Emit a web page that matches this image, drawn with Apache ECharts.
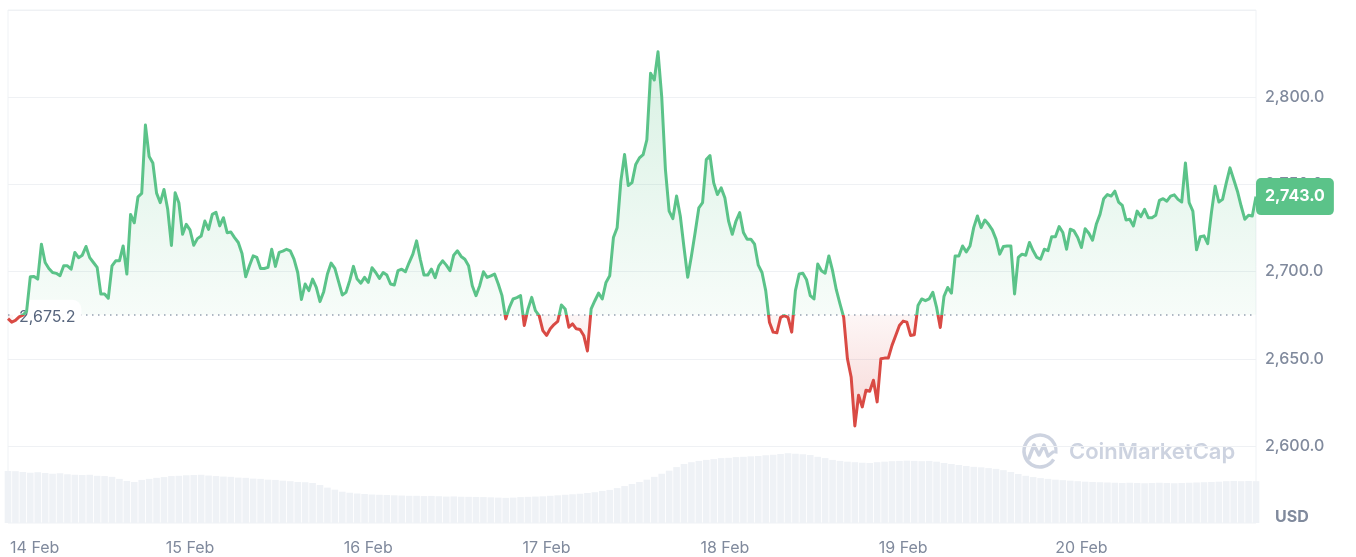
<!DOCTYPE html>
<html>
<head>
<meta charset="utf-8">
<script src="https://cdn.jsdelivr.net/npm/echarts@6/dist/echarts.min.js"></script>
<style>
html,body{margin:0;padding:0;background:#ffffff;}
#chart{width:1356px;height:557px;}
</style>
</head>
<body>
<div id="chart"></div>
<script>
// ---- data ----
const dayLabels = ['14 Feb','15 Feb','16 Feb','17 Feb','18 Feb','19 Feb','20 Feb'];
const dayTickHours = [0,24,48,72,96,120,144];          // hours after 14 Feb 00:00
const priceStartHour = -0.5;
const priceStepHours = 0.5;
const prices = [
 2673,2671,2672,2674,2675,2677,2697,2697.2,2695.7,2715.7,
 2705.2,2701.8,2699.5,2699,2697.6,2703.3,2703.3,2701.4,2711,2708,
 2709.4,2714.4,2708,2705.2,2702.4,2687.2,2687.2,2684.7,2703.3,2706.2,
 2706.2,2714.7,2698.6,2732.8,2728,2742.9,2744.8,2784,2766,2762.3,
 2745,2739.5,2747.1,2735.7,2715,2745.2,2739.5,2721.4,2727.1,2723.9,
 2715.1,2718.9,2720.4,2729,2724.2,2732.8,2734,2726.2,2730.9,2722.3,
 2722.7,2719.5,2716.7,2710.4,2697,2703.3,2709,2708.1,2701.8,2701.8,
 2702.4,2712.8,2703,2711,2711.7,2712.8,2711.9,2707.1,2699.5,2684,
 2692.9,2689.1,2695.7,2691,2682.8,2688.5,2698.6,2704.9,2701.8,2694.2,
 2686.6,2688.1,2694.8,2703,2695.7,2693.4,2696.7,2693.8,2702.2,2699.5,
 2696.1,2699.5,2698,2692.9,2692.3,2700.5,2701.4,2699.9,2705.2,2710,
 2717.6,2707.1,2698,2698,2701.4,2696.5,2703.3,2706.2,2703.7,2700.5,
 2709.4,2711.9,2708.7,2707.1,2703.3,2691.9,2686.2,2691.9,2699.9,2696.7,
 2697.6,2698.6,2692.9,2686.2,2672.9,2679.5,2684.3,2685.1,2686.2,2669.1,
 2678.6,2685.2,2677.6,2674.8,2666.2,2663.4,2667.2,2669.6,2671.4,2680.9,
 2678.6,2668.1,2670,2667.2,2666.8,2663.4,2654.5,2678.6,2683.3,2687.7,
 2684.3,2693.8,2697.6,2719.5,2725.2,2751.9,2767.1,2749.4,2751,2761.4,
 2765.2,2767.1,2775.6,2813.7,2809.9,2826,2800.4,2758.5,2734.7,2730.4,
 2743.3,2731.9,2713.8,2696.7,2709,2722.4,2736.6,2739.5,2764.2,2766.5,
 2750.9,2744.2,2748,2742.3,2729,2721.4,2729,2733.8,2722.4,2718.6,
 2718.6,2715.7,2703.7,2699.5,2689.1,2671,2665.3,2664.9,2673.8,2674.8,
 2673.8,2665.3,2689.1,2698.6,2699,2695.3,2686.2,2684.3,2704.3,2700.5,
 2699.1,2709,2700.5,2689.6,2681.5,2673.8,2650,2639.6,2611.5,2629.1,
 2622.4,2632,2631.4,2637.7,2625.3,2650,2650.4,2650.4,2657.7,2663.4,
 2669.1,2671.6,2671,2663.4,2663.8,2680.5,2684.3,2683.3,2684.3,2688.1,
 2679.5,2668,2685.8,2690.9,2687.7,2709,2709,2714.7,2711.3,2714.7,
 2725.2,2731.9,2725.2,2729.6,2727.1,2723.9,2718.6,2710,2714.4,2714.7,
 2714.7,2687.2,2708.1,2710,2709.4,2716.7,2711.9,2708.1,2707.1,2712.8,
 2712,2720,2720,2725.8,2722.4,2712.8,2724.3,2723.3,2719.5,2713.8,
 2724.6,2722,2718,2727.1,2732.8,2741.8,2744.2,2743.3,2746.1,2739.9,
 2738,2729.6,2730,2726.2,2734.7,2731.5,2735.7,2730.9,2730.9,2732.3,
 2740.8,2741.8,2740.4,2743.3,2744,2741.4,2739.9,2762.3,2739.5,2734.7,
 2712.5,2720,2720.5,2716,2733.8,2749,2739.9,2741.4,2750.9,2759.5,
 2752.8,2746.1,2737.6,2730,2732.3,2731.9,2743.0
];
const volStartHour = -0.5;
const volStepHours = 1;
const volumes = [ // USD millions per hour (estimated)
 1014,1010,995,980,990,975,960,970,950,940,
 935,940,920,915,900,860,820,800,840,860,
 880,895,915,920,930,935,940,925,915,905,
 900,885,880,865,860,845,840,825,815,800,
 795,780,740,690,650,610,590,575,565,555,
 550,545,540,535,530,530,525,528,522,515,
 518,512,510,508,505,500,495,490,495,505,
 510,515,520,530,540,550,560,570,585,600,
 625,645,680,720,760,800,845,900,960,1020,
 1090,1150,1185,1210,1230,1245,1265,1270,1285,1290,
 1300,1305,1320,1330,1345,1360,1350,1340,1325,1290,
 1265,1230,1210,1195,1185,1175,1170,1185,1195,1205,
 1210,1215,1210,1205,1210,1195,1170,1150,1130,1110,
 1095,1085,1070,1055,1030,995,955,920,895,875,
 860,845,835,825,815,805,800,795,790,785,
 780,785,780,775,780,785,780,775,780,785,
 790,795,800,805,815,820,815,820,815
];
const baselinePrice = 2675.2;
const lastPrice = 2743.0;
const yMin = 2600, yMax = 2850, yStep = 50;

// ---- build ----
const priceData = prices.map((v, i) => [priceStartHour + i * priceStepHours, v]);
const volData = volumes.map((v, i) => [volStartHour + i * volStepHours, v]);
const xMin = priceStartHour;
const xMax = priceStartHour + (prices.length - 1) * priceStepHours;

const GREEN = '#5bc389';
const RED = '#d94a44';
const gTop = 10, gH = 436;
const f = (yMax - baselinePrice) / (yMax - yMin);

const lineGrad = new echarts.graphic.LinearGradient(0, gTop, 0, gTop + gH, [
  {offset: 0, color: GREEN}, {offset: f, color: GREEN},
  {offset: f, color: RED}, {offset: 1, color: RED}
], true);
const areaGrad = new echarts.graphic.LinearGradient(0, gTop, 0, gTop + gH, [
  {offset: 0, color: 'rgba(91,195,137,0.38)'},
  {offset: f, color: 'rgba(91,195,137,0.07)'},
  {offset: f, color: 'rgba(217,74,68,0.07)'},
  {offset: 1, color: 'rgba(217,74,68,0.36)'}
], true);

const fmt = v => v.toLocaleString('en-US', {minimumFractionDigits: 1, maximumFractionDigits: 1});
const FONT = 'Inter, "Noto Sans", sans-serif';

const chart = echarts.init(document.getElementById('chart'), null, {renderer: 'canvas'});
chart.setOption({
  animation: false,
  backgroundColor: '#ffffff',
  textStyle: {fontFamily: FONT},
  grid: [
    {left: 8, right: 100, top: gTop, height: gH},
    {left: 8, right: 100, top: 10, bottom: 34, show: true, borderColor: '#eff2f5', borderWidth: 1, backgroundColor: 'transparent'}
  ],
  xAxis: [
    {type: 'value', gridIndex: 0, min: xMin, max: xMax, show: false},
    {type: 'value', gridIndex: 1, min: xMin, max: xMax,
     axisLine: {show: false}, axisTick: {show: false}, splitLine: {show: false},
     axisLabel: {
       customValues: dayTickHours,
       margin: 17,
       color: '#808a9d', fontSize: 16, fontFamily: FONT,
       formatter: v => {
         const idx = dayTickHours.indexOf(Math.round(v));
         const t = idx >= 0 ? dayLabels[idx] : '';
         return idx === 0 ? '{first|' + t + '}' : t;
       },
       rich: {first: {padding: [0, 0, 0, 46], color: '#808a9d', fontSize: 16, fontFamily: FONT}}
     }}
  ],
  yAxis: [
    {type: 'value', gridIndex: 0, position: 'right', min: yMin, max: yMax, interval: yStep,
     axisLine: {show: false}, axisTick: {show: false},
     splitLine: {lineStyle: {color: '#eff1f4', width: 1}},
     axisLabel: {margin: 9, color: '#808a9d', fontSize: 16, fontWeight: 500, fontFamily: FONT,
       formatter: v => (v >= yMax ? '' : fmt(v))}},
    {type: 'value', gridIndex: 1, min: 0, max: 10000, show: false}
  ],
  series: [
    {
      type: 'bar', xAxisIndex: 1, yAxisIndex: 1, data: volData,
      barWidth: 6.6, clip: true, silent: true, z: 1,
      itemStyle: {color: '#eff2f6'}
    },
    {
      type: 'line', xAxisIndex: 0, yAxisIndex: 0, data: priceData,
      showSymbol: false, symbol: 'none', smooth: false, clip: true, z: 5,
      lineStyle: {width: 3, color: lineGrad, join: 'round'},
      areaStyle: {origin: baselinePrice, color: areaGrad},
      markLine: {
        silent: true, symbol: ['none', 'none'], animation: false,
        data: [
          {yAxis: baselinePrice,
           lineStyle: {type: [1.5, 4.5], width: 1.5, color: '#98a1b3'},
           label: {show: true, position: 'insideStart', distance: 5,
             formatter: () => fmt(baselinePrice),
             color: '#58667e', fontSize: 16, fontFamily: FONT,
             backgroundColor: 'rgba(255,255,255,0.97)', borderRadius: 9,
             padding: [9, 6, 9, 6], offset: [0, 2]}},
          {yAxis: lastPrice,
           lineStyle: {width: 0, color: 'rgba(0,0,0,0)', opacity: 1},
           label: {show: true, position: 'end', distance: 0, opacity: 1,
             formatter: () => fmt(lastPrice),
             color: '#ffffff', fontSize: 16, fontWeight: 'bold', fontFamily: FONT,
             backgroundColor: GREEN, borderRadius: 5, padding: [11, 9, 10, 9]}}
        ]
      }
    }
  ],
  graphic: [
    {type: 'text', left: 1275, top: 509, z: 10,
     style: {text: 'USD', font: 'bold 16px ' + FONT, fill: '#808a9d'}},
    {type: 'group', z: 3, silent: true, children: [
      {type: 'arc', shape: {cx: 1040, cy: 451, r: 16, startAngle: 0.55, endAngle: 0.35 + Math.PI * 2 - 0.2},
       style: {stroke: '#cdd3e0', lineWidth: 3.5, fill: 'none'}},
      {type: 'polyline', shape: {points: [[1029, 458], [1034, 445], [1039, 455], [1044, 445], [1048, 456], [1053, 452]]},
       style: {stroke: '#cdd3e0', lineWidth: 3.5, fill: 'none', lineJoin: 'round', lineCap: 'round'}},
      {type: 'text', x: 1069, y: 452,
       style: {text: 'CoinMarketCap', font: '600 22px ' + FONT, fill: '#cdd3e0', verticalAlign: 'middle', align: 'left'}}
    ]}
  ]
});
</script>
</body>
</html>
